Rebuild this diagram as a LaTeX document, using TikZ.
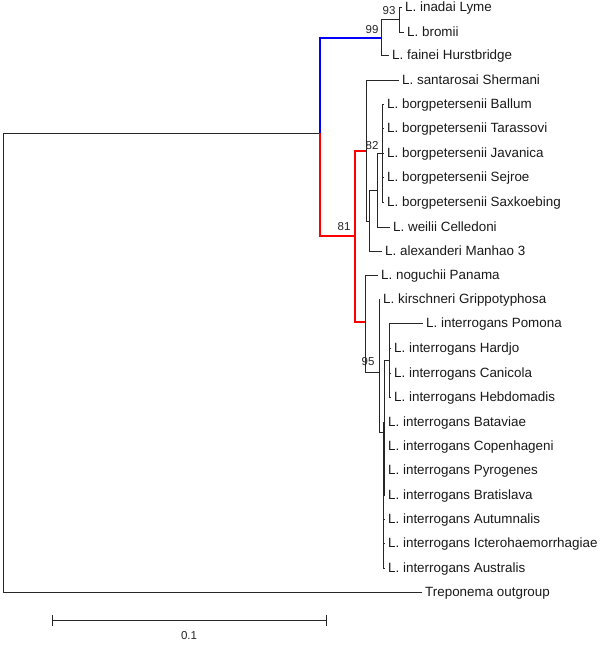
\documentclass[tikz,border=0pt]{standalone}
\usepackage{fontspec}
\setmainfont{Liberation Sans}
\begin{document}
\begin{tikzpicture}[x=1pt,y=-1pt,
  br/.style={draw=black!85, line width=0.9pt},
  blu/.style={draw={rgb,255:red,0;green,0;blue,255}, line width=2pt},
  rd/.style={draw={rgb,255:red,255;green,0;blue,0}, line width=2pt},
  leaf/.style={anchor=west, inner xsep=3pt, inner ysep=0pt, font=\fontsize{13.4}{14}\selectfont, text=black!90, text height=10pt, text depth=2pt},
  boot/.style={font=\fontsize{11.5}{13}\selectfont, text=black!85, inner sep=0pt}]
\useasboundingbox (0,0) rectangle (600,645);
% leaves
\node[leaf] (l1) at (402,7) {L. inadai Lyme};
\node[leaf] (l2) at (404,32) {L. bromii};
\node[leaf] (l3) at (389,55) {L. fainei Hurstbridge};
\node[leaf] (l4) at (399,80) {L. santarosai Shermani};
\node[leaf] (l5) at (384,104) {L. borgpetersenii Ballum};
\node[leaf] (l6) at (384,128) {L. borgpetersenii Tarassovi};
\node[leaf] (l7) at (384,153) {L. borgpetersenii Javanica};
\node[leaf] (l8) at (384,177) {L. borgpetersenii Sejroe};
\node[leaf] (l9) at (384,202) {L. borgpetersenii Saxkoebing};
\node[leaf] (l10) at (390,227) {L. weilii Celledoni};
\node[leaf] (l11) at (382,251) {L. alexanderi Manhao 3};
\node[leaf] (l12) at (378,275) {L. noguchii Panama};
\node[leaf] (l13) at (380,299) {L. kirschneri Grippotyphosa};
\node[leaf] (l14) at (423,323) {L. interrogans Pomona};
\node[leaf] (l15) at (391,348) {L. interrogans Hardjo};
\node[leaf] (l16) at (391,373) {L. interrogans Canicola};
\node[leaf] (l17) at (391,397) {L. interrogans Hebdomadis};
\node[leaf] (l18) at (385,422) {L. interrogans Bataviae};
\node[leaf] (l19) at (385,446) {L. interrogans Copenhageni};
\node[leaf] (l20) at (385,470) {L. interrogans Pyrogenes};
\node[leaf] (l21) at (385,495) {L. interrogans Bratislava};
\node[leaf] (l22) at (385,519) {L. interrogans Autumnalis};
\node[leaf] (l23) at (385,543) {L. interrogans Icterohaemorrhagiae};
\node[leaf] (l24) at (385,568) {L. interrogans Australis};
\node[leaf] (l25) at (422,592) {Treponema outgroup};
% internal nodes
\coordinate (R) at (3,362);
\coordinate (IG) at (320,133);
\coordinate (BL) at (381,37.5);
\coordinate (N93) at (399,19.5);
\coordinate (X) at (355,236);
\coordinate (A) at (366,151);
\coordinate (B) at (369,221);
\coordinate (C) at (377,190);
\coordinate (D) at (382,153);
\coordinate (E) at (365,322);
\coordinate (F) at (379,372);
\coordinate (G) at (384.5,432);
\coordinate (H) at (389,360);
\coordinate (I) at (383.3,495);
% branches
\draw[br] (R) |- (IG);
\draw[br] (R) |- (l25.west);
\draw[blu] (IG) |- (BL);
\draw[rd] (IG) |- (X);
\draw[br] (BL) |- (N93);
\draw[br] (BL) |- (l3.west);
\draw[br] (N93) |- (l1.west);
\draw[br] (N93) |- (l2.west);
\draw[rd] (X) |- (A);
\draw[rd] (X) |- (E);
\draw[br] (A) |- (l4.west);
\draw[br] (A) |- (B);
\draw[br] (B) |- (C);
\draw[br] (B) |- (l11.west);
\draw[br] (C) |- (D);
\draw[br] (C) |- (l10.west);
\foreach \k in {5,...,9} {\draw[br] (D) |- (l\k.west);}
\draw[br] (E) |- (l12.west);
\draw[br] (E) |- (F);
\draw[br] (F) |- (l13.west);
\draw[br] (F) |- (G);
\draw[br] (G) |- (H);
\draw[br] (G) |- (I);
\foreach \k in {14,...,17} {\draw[br] (H) |- (l\k.west);}
\foreach \k in {18,...,24} {\draw[br] (I) |- (l\k.west);}
% bootstrap values
\node[boot] (b93) at (389,11) {93};
\node[boot] (b99) at (372,30) {99};
\node[boot] (b82) at (372,146) {82};
\node[boot] (b81) at (344,227) {81};
\node[boot] (b95) at (368,362) {95};
% scale bar
\coordinate (s1) at (52,620);
\coordinate (s2) at (326,620);
\draw[br] (s1) -- (s2);
\draw[br] (52,614.5) -- (52,625.5);
\draw[br] (326,614.5) -- (326,625.5);
\node[boot] (sl) at (189,636) {0.1};
\end{tikzpicture}
\end{document}
